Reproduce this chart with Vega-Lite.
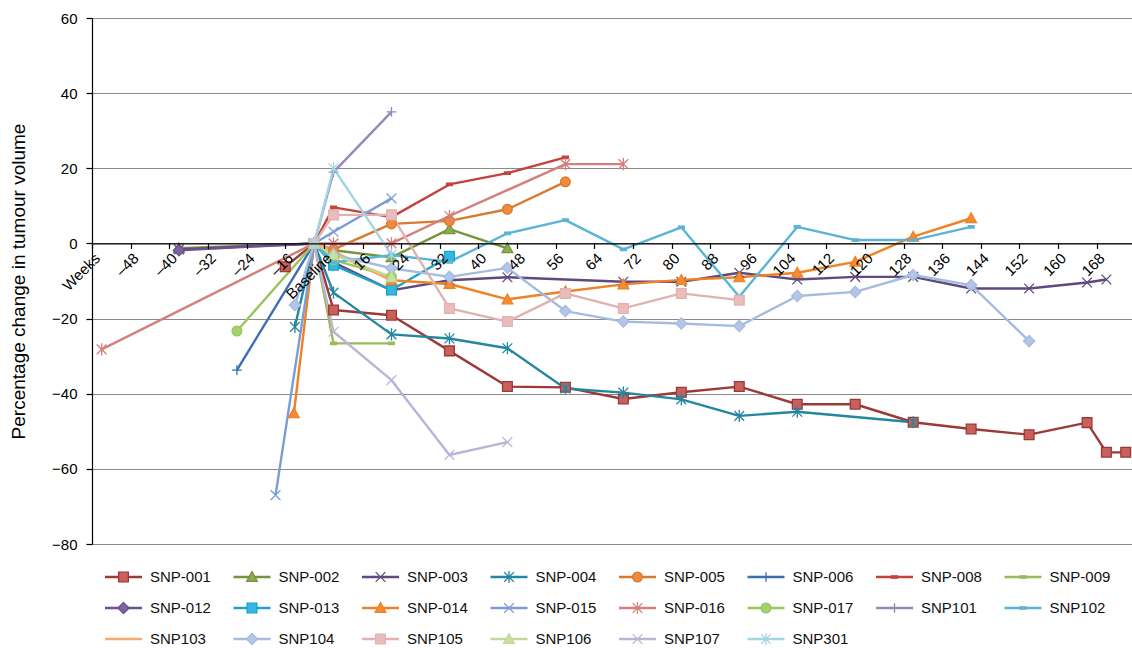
{
  "$schema": "https://vega.github.io/schema/vega-lite/v6.json",
  "width": 1040,
  "height": 526,
  "autosize": {"type": "none"},
  "padding": {"left": 92, "top": 18, "right": 0, "bottom": 104},
  "background": "white",
  "config": {"view": {"stroke": null}, "font": "Liberation Sans"},
  "data": {"values": [
    {"s":"SNP-001","w":0,"v":-6.2},{"s":"SNP-001","w":6,"v":0},{"s":"SNP-001","w":10,"v":-17.7},{"s":"SNP-001","w":22,"v":-19.1},{"s":"SNP-001","w":34,"v":-28.6},{"s":"SNP-001","w":46,"v":-38.1},{"s":"SNP-001","w":58,"v":-38.3},{"s":"SNP-001","w":70,"v":-41.4},{"s":"SNP-001","w":82,"v":-39.6},{"s":"SNP-001","w":94,"v":-38.1},{"s":"SNP-001","w":106,"v":-42.8},{"s":"SNP-001","w":118,"v":-42.8},{"s":"SNP-001","w":130,"v":-47.6},{"s":"SNP-001","w":142,"v":-49.4},{"s":"SNP-001","w":154,"v":-50.9},{"s":"SNP-001","w":166,"v":-47.7},{"s":"SNP-001","w":170,"v":-55.6},{"s":"SNP-001","w":174,"v":-55.6},
    {"s":"SNP-002","w":-22,"v":-1.3},{"s":"SNP-002","w":6,"v":0},{"s":"SNP-002","w":10,"v":-1.8},{"s":"SNP-002","w":22,"v":-3.7},{"s":"SNP-002","w":34,"v":3.8},{"s":"SNP-002","w":46,"v":-1.3},
    {"s":"SNP-003","w":-22,"v":-1.6},{"s":"SNP-003","w":6,"v":0},{"s":"SNP-003","w":10,"v":-5},{"s":"SNP-003","w":22,"v":-12.5},{"s":"SNP-003","w":34,"v":-9.8},{"s":"SNP-003","w":46,"v":-9},{"s":"SNP-003","w":70,"v":-10.2},{"s":"SNP-003","w":82,"v":-10.2},{"s":"SNP-003","w":94,"v":-7.8},{"s":"SNP-003","w":106,"v":-9.6},{"s":"SNP-003","w":118,"v":-8.9},{"s":"SNP-003","w":130,"v":-8.9},{"s":"SNP-003","w":142,"v":-12},{"s":"SNP-003","w":154,"v":-12},{"s":"SNP-003","w":166,"v":-10.4},{"s":"SNP-003","w":170,"v":-9.6},
    {"s":"SNP-004","w":2,"v":-22.2},{"s":"SNP-004","w":6,"v":0},{"s":"SNP-004","w":10,"v":-13.1},{"s":"SNP-004","w":22,"v":-24.2},{"s":"SNP-004","w":34,"v":-25.3},{"s":"SNP-004","w":46,"v":-27.9},{"s":"SNP-004","w":58,"v":-38.6},{"s":"SNP-004","w":70,"v":-39.7},{"s":"SNP-004","w":82,"v":-41.5},{"s":"SNP-004","w":94,"v":-45.9},{"s":"SNP-004","w":106,"v":-44.8},{"s":"SNP-004","w":130,"v":-47.6},
    {"s":"SNP-005","w":6,"v":0},{"s":"SNP-005","w":10,"v":-1.6},{"s":"SNP-005","w":22,"v":5.2},{"s":"SNP-005","w":34,"v":6.0},{"s":"SNP-005","w":46,"v":9.1},{"s":"SNP-005","w":58,"v":16.4},
    {"s":"SNP-006","w":-10,"v":-33.7},{"s":"SNP-006","w":6,"v":0},
    {"s":"SNP-008","w":6,"v":0},{"s":"SNP-008","w":10,"v":9.6},{"s":"SNP-008","w":22,"v":7.0},{"s":"SNP-008","w":34,"v":15.7},{"s":"SNP-008","w":46,"v":18.7},{"s":"SNP-008","w":58,"v":22.9},
    {"s":"SNP-009","w":6,"v":0},{"s":"SNP-009","w":10,"v":-26.6},{"s":"SNP-009","w":22,"v":-26.6},
    {"s":"SNP-012","w":-22,"v":-1.8},{"s":"SNP-012","w":6,"v":0},
    {"s":"SNP-013","w":6,"v":0},{"s":"SNP-013","w":10,"v":-5.8},{"s":"SNP-013","w":22,"v":-12.4},{"s":"SNP-013","w":34,"v":-3.4},
    {"s":"SNP-014","w":1.8,"v":-45.2},{"s":"SNP-014","w":6,"v":0},{"s":"SNP-014","w":10,"v":-2.6},{"s":"SNP-014","w":22,"v":-9.8},{"s":"SNP-014","w":34,"v":-10.8},{"s":"SNP-014","w":46,"v":-14.9},{"s":"SNP-014","w":58,"v":-12.8},{"s":"SNP-014","w":70,"v":-10.9},{"s":"SNP-014","w":82,"v":-9.7},{"s":"SNP-014","w":94,"v":-9.0},{"s":"SNP-014","w":106,"v":-7.8},{"s":"SNP-014","w":118,"v":-4.9},{"s":"SNP-014","w":130,"v":1.8},{"s":"SNP-014","w":142,"v":6.7},
    {"s":"SNP-015","w":-2,"v":-67},{"s":"SNP-015","w":6,"v":0},{"s":"SNP-015","w":10,"v":3.1},{"s":"SNP-015","w":22,"v":12},
    {"s":"SNP-016","w":-38,"v":-28.2},{"s":"SNP-016","w":6,"v":0},{"s":"SNP-016","w":10,"v":0},{"s":"SNP-016","w":22,"v":0},{"s":"SNP-016","w":34,"v":7.3},{"s":"SNP-016","w":58,"v":21.1},{"s":"SNP-016","w":70,"v":21.1},
    {"s":"SNP-017","w":-10,"v":-23.3},{"s":"SNP-017","w":6,"v":0},{"s":"SNP-017","w":10,"v":-4.4},{"s":"SNP-017","w":22,"v":-8.9},
    {"s":"SNP101","w":6,"v":0},{"s":"SNP101","w":10,"v":19},{"s":"SNP101","w":22,"v":35},
    {"s":"SNP102","w":6,"v":0},{"s":"SNP102","w":10,"v":-5},{"s":"SNP102","w":22,"v":-3.1},{"s":"SNP102","w":34,"v":-4.9},{"s":"SNP102","w":46,"v":2.7},{"s":"SNP102","w":58,"v":6.2},{"s":"SNP102","w":70,"v":-1.6},{"s":"SNP102","w":82,"v":4.3},{"s":"SNP102","w":94,"v":-14.2},{"s":"SNP102","w":106,"v":4.4},{"s":"SNP102","w":118,"v":0.9},{"s":"SNP102","w":130,"v":0.9},{"s":"SNP102","w":142,"v":4.4},
    {"s":"SNP103","w":6,"v":0},{"s":"SNP103","w":10,"v":-2},{"s":"SNP103","w":22,"v":-10},
    {"s":"SNP104","w":2,"v":-16.4},{"s":"SNP104","w":6,"v":0},{"s":"SNP104","w":10,"v":-3},{"s":"SNP104","w":22,"v":-6.6},{"s":"SNP104","w":34,"v":-8.9},{"s":"SNP104","w":46,"v":-6.5},{"s":"SNP104","w":58,"v":-18},{"s":"SNP104","w":70,"v":-20.8},{"s":"SNP104","w":82,"v":-21.3},{"s":"SNP104","w":94,"v":-22},{"s":"SNP104","w":106,"v":-14},{"s":"SNP104","w":118,"v":-12.9},{"s":"SNP104","w":130,"v":-8.4},{"s":"SNP104","w":142,"v":-11.1},{"s":"SNP104","w":154,"v":-26},
    {"s":"SNP105","w":6,"v":0},{"s":"SNP105","w":10,"v":7.6},{"s":"SNP105","w":22,"v":7.6},{"s":"SNP105","w":34,"v":-17.3},{"s":"SNP105","w":46,"v":-20.8},{"s":"SNP105","w":58,"v":-13.3},{"s":"SNP105","w":70,"v":-17.3},{"s":"SNP105","w":82,"v":-13.3},{"s":"SNP105","w":94,"v":-15.1},
    {"s":"SNP106","w":6,"v":0},{"s":"SNP106","w":10,"v":-3},{"s":"SNP106","w":22,"v":-9},
    {"s":"SNP107","w":6,"v":0},{"s":"SNP107","w":10,"v":-23.5},{"s":"SNP107","w":22,"v":-36.4},{"s":"SNP107","w":34,"v":-56.3},{"s":"SNP107","w":46,"v":-52.9},
    {"s":"SNP301","w":6,"v":0},{"s":"SNP301","w":10,"v":20},{"s":"SNP301","w":22,"v":-3}
  ]},
  "encoding": {
    "x": {"field": "w", "type": "quantitative",
      "scale": {"domain": [-40, 175.3], "nice": false, "zero": false},
      "axis": {"values": [-40,-32,-24,-16,-8,0,8,16,24,32,40,48,56,64,72,80,88,96,104,112,120,128,136,144,152,160,168],
        "labelExpr": "datum.value == -40 ? 'Weeks' : datum.value == 8 ? 'Baseline' : datum.value < 8 ? '\u2013' + (16 - datum.value) : '' + datum.value",
        "offset": -300.57, "domainColor": "#000", "domainWidth": 1.2, "tickColor": "#000", "tickSize": 5, "tickWidth": 1.2,
        "labelAngle": -45, "labelFontSize": 15, "labelColor": "#000", "labelOverlap": false, "labelFlush": false, "labelBound": false,
        "labelPadding": 2, "grid": false, "title": null, "zindex": 1}},
    "y": {"field": "v", "type": "quantitative",
      "scale": {"domain": [-80, 60], "nice": false, "zero": false},
      "axis": {"values": [-80,-60,-40,-20,0,20,40,60], "grid": true, "gridColor": "#8a8a8a", "gridWidth": 1,
        "domainColor": "#000", "domainWidth": 1.2, "tickColor": "#000", "tickSize": 6, "tickWidth": 1.2,
        "labelFontSize": 15, "labelColor": "#000", "labelPadding": 9,
        "title": "Percentage change in tumour volume", "titleFontSize": 19, "titleFontWeight": "normal", "titleColor": "#000", "titlePadding": 23}}
  },
  "layer": [
    {
      "mark": {"type": "line", "strokeWidth": 2.4, "strokeJoin": "round"},
      "encoding": {
        "stroke": {"field": "s", "type": "nominal",
          "scale": {"domain": ["SNP-001","SNP-002","SNP-003","SNP-004","SNP-005","SNP-006","SNP-008","SNP-009","SNP-012","SNP-013","SNP-014","SNP-015","SNP-016","SNP-017","SNP101","SNP102","SNP103","SNP104","SNP105","SNP106","SNP107","SNP301"],
            "range": ["#9b3a37","#77933c","#5f4a7d","#23879f","#d87b30","#3b6eb4","#c3423e","#9bbb59","#6b5190","#1da2cc","#f08125","#7c9dd2","#d47f7c","#98c65f","#9a86be","#5ab4d6","#f7ab6f","#a6bbe0","#e0b2b1","#c2d79a","#bfb3d5","#a5d5e4"]},
          "legend": {"title": null, "orient": "none", "legendX": 11, "legendY": 550, "direction": "horizontal", "columns": 8,
            "columnPadding": 20.5, "rowPadding": 13, "clipHeight": 18, "labelFontSize": 15, "labelColor": "#111", "labelFont": "Liberation Sans",
            "symbolType": "stroke", "symbolSize": 1369, "symbolStrokeWidth": 2.4, "symbolOffset": 0.5, "labelOffset": 6.5, "padding": 0}
        }
      }
    },
    {
      "transform": [{"filter": "datum.s != 'SNP103'"}],
      "mark": {"type": "point", "size": 95, "strokeWidth": 1.3, "opacity": 1, "filled": false},
      "encoding": {
        "color": {"field": "s", "type": "nominal",
          "scale": {"domain": ["SNP-001","SNP-002","SNP-003","SNP-004","SNP-005","SNP-006","SNP-008","SNP-009","SNP-012","SNP-013","SNP-014","SNP-015","SNP-016","SNP-017","SNP101","SNP102","SNP103","SNP104","SNP105","SNP106","SNP107","SNP301","~"],
            "range": ["#9b3a37","#77933c","#5f4a7d","#23879f","#d87b30","#3b6eb4","#c3423e","#9bbb59","#6b5190","#1da2cc","#f08125","#7c9dd2","#d47f7c","#98c65f","#9a86be","#5ab4d6","#f7ab6f","#a6bbe0","#e0b2b1","#c2d79a","#bfb3d5","#a5d5e4","#000"]},
          "legend": {"title": null, "orient": "none", "legendX": 11, "legendY": 550, "direction": "horizontal", "columns": 8,
            "columnPadding": 20.5, "rowPadding": 13, "clipHeight": 18, "labelFontSize": 15, "labelOpacity": 0, "labelFont": "Liberation Sans",
            "symbolSize": 95, "symbolStrokeWidth": 1.3, "symbolOffset": 13, "labelOffset": 19, "padding": 0,
            "values": ["SNP-001","SNP-002","SNP-003","SNP-004","SNP-005","SNP-006","SNP-008","SNP-009","SNP-012","SNP-013","SNP-014","SNP-015","SNP-016","SNP-017","SNP101","SNP102","SNP103","SNP104","SNP105","SNP106","SNP107","SNP301"]}},
        "fill": {"field": "s", "type": "nominal",
          "scale": {"domain": ["SNP-001","SNP-002","SNP-003","SNP-004","SNP-005","SNP-006","SNP-008","SNP-009","SNP-012","SNP-013","SNP-014","SNP-015","SNP-016","SNP-017","SNP101","SNP102","SNP103","SNP104","SNP105","SNP106","SNP107","SNP301","~"],
            "range": ["#c9605c","#8cad4e","transparent","transparent","#f08a3c","transparent","#c3423e","#9bbb59","#7f64a2","#34b7e0","#f58b33","transparent","transparent","#a6d06f","transparent","#5ab4d6","transparent","#b3c6e8","#eabdbc","#cadfa3","transparent","transparent","#000"]}},
        "shape": {"field": "s", "type": "nominal",
          "scale": {"domain": ["SNP-001","SNP-002","SNP-003","SNP-004","SNP-005","SNP-006","SNP-008","SNP-009","SNP-012","SNP-013","SNP-014","SNP-015","SNP-016","SNP-017","SNP101","SNP102","SNP103","SNP104","SNP105","SNP106","SNP107","SNP301","~"],
            "range": ["M-1,-1H1V1H-1Z","M0,-1.1L1.1,0.9H-1.1Z","M-1,-1L1,1M-1,1L1,-1","M-1,-1L1,1M-1,1L1,-1M0,-1.25V1.25","M1,0A1,1,0,1,1,-1,0A1,1,0,1,1,1,0Z","M-1,0H1M0,-1V1","M-0.6,-0.25H0.6V0.25H-0.6Z","M-0.6,-0.25H0.6V0.25H-0.6Z","M0,-1.15L1.15,0L0,1.15L-1.15,0Z","M-1,-1H1V1H-1Z","M0,-1.1L1.1,0.9H-1.1Z","M-1,-1L1,1M-1,1L1,-1","M-1,-1L1,1M-1,1L1,-1M0,-1.25V1.25","M1,0A1,1,0,1,1,-1,0A1,1,0,1,1,1,0Z","M-1,0H1M0,-1V1","M-0.6,-0.25H0.6V0.25H-0.6Z","M0,0","M0,-1.15L1.15,0L0,1.15L-1.15,0Z","M-1,-1H1V1H-1Z","M0,-1.1L1.1,0.9H-1.1Z","M-1,-1L1,1M-1,1L1,-1","M-1,-1L1,1M-1,1L1,-1M0,-1.25V1.25","M0,0"]}}
      }
    }
  ]
}
